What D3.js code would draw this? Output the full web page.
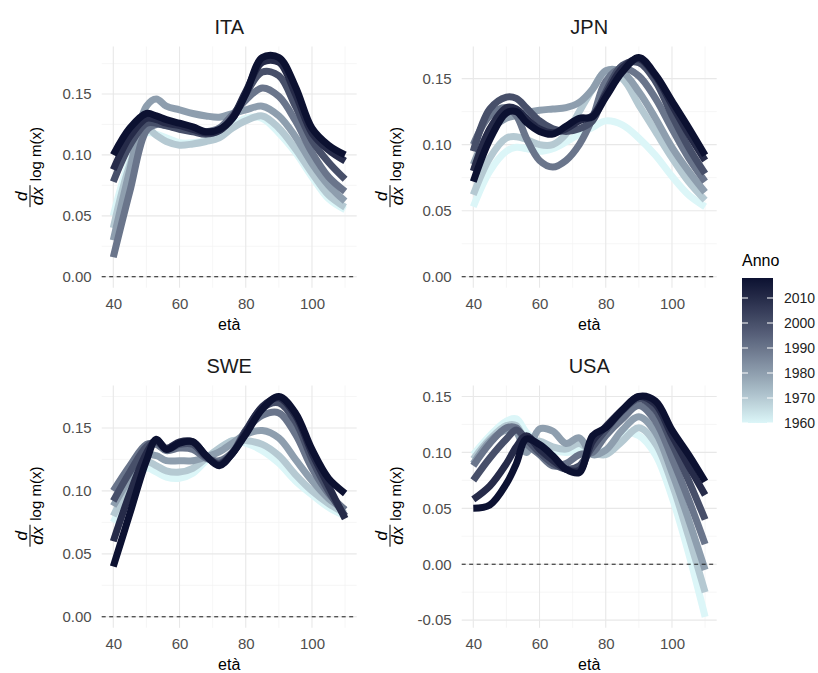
<!DOCTYPE html>
<html>
<head>
<meta charset="utf-8">
<script src="https://d3js.org/d3.v7.min.js"></script>
<style>
  body { margin: 0; background: #fff; }
  text { font-family: "Liberation Sans", Arial, sans-serif; }
</style>
</head>
<body>
<script>
// ages, one column per age
var ages = [40, 45, 50, 53, 56, 60, 64, 68, 72, 76, 80, 85, 90, 95, 100, 105, 110];
// years drawn, one row per year in each country table
var years = [1960, 1970, 1980, 1990, 2000, 2010, 2018];
var legendTicks = [1960, 1970, 1980, 1990, 2000, 2010];
var countries = ["ITA", "JPN", "SWE", "USA"];
var xTicks = [40, 60, 80, 100];
var xMinor = [50, 70, 90, 110];

var ita = [
  [0.050, 0.095, 0.118, 0.117, 0.114, 0.110, 0.110, 0.112, 0.116, 0.124, 0.130, 0.130, 0.118, 0.102, 0.082, 0.064, 0.055],
  [0.040, 0.092, 0.122, 0.116, 0.111, 0.108, 0.109, 0.111, 0.114, 0.122, 0.128, 0.132, 0.122, 0.105, 0.085, 0.067, 0.057],
  [0.030, 0.088, 0.140, 0.146, 0.140, 0.137, 0.134, 0.132, 0.131, 0.134, 0.137, 0.140, 0.132, 0.115, 0.093, 0.075, 0.062],
  [0.016, 0.070, 0.120, 0.125, 0.124, 0.122, 0.120, 0.119, 0.122, 0.133, 0.145, 0.155, 0.148, 0.128, 0.102, 0.082, 0.070],
  [0.078, 0.108, 0.126, 0.126, 0.124, 0.121, 0.119, 0.117, 0.120, 0.130, 0.150, 0.168, 0.165, 0.140, 0.112, 0.094, 0.080],
  [0.088, 0.115, 0.130, 0.129, 0.126, 0.124, 0.121, 0.118, 0.120, 0.131, 0.152, 0.176, 0.176, 0.150, 0.118, 0.104, 0.095],
  [0.100, 0.122, 0.134, 0.132, 0.129, 0.126, 0.123, 0.119, 0.121, 0.130, 0.150, 0.180, 0.180, 0.156, 0.122, 0.108, 0.100]
];

var jpn = [
  [0.053, 0.080, 0.095, 0.098, 0.097, 0.095, 0.097, 0.102, 0.108, 0.113, 0.118, 0.115, 0.105, 0.092, 0.076, 0.062, 0.053],
  [0.062, 0.090, 0.105, 0.106, 0.104, 0.100, 0.100, 0.108, 0.125, 0.142, 0.155, 0.150, 0.130, 0.110, 0.090, 0.072, 0.058],
  [0.085, 0.110, 0.120, 0.122, 0.124, 0.126, 0.127, 0.128, 0.132, 0.142, 0.156, 0.155, 0.140, 0.120, 0.098, 0.080, 0.064],
  [0.100, 0.122, 0.128, 0.122, 0.105, 0.088, 0.083, 0.088, 0.100, 0.120, 0.148, 0.158, 0.152, 0.135, 0.112, 0.090, 0.072],
  [0.095, 0.127, 0.136, 0.135, 0.128, 0.118, 0.112, 0.110, 0.112, 0.118, 0.140, 0.160, 0.162, 0.148, 0.122, 0.098, 0.078],
  [0.080, 0.112, 0.128, 0.127, 0.120, 0.112, 0.109, 0.112, 0.118, 0.122, 0.138, 0.158, 0.165, 0.152, 0.130, 0.108, 0.088],
  [0.072, 0.104, 0.124, 0.125, 0.117, 0.110, 0.108, 0.114, 0.120, 0.121, 0.136, 0.155, 0.166, 0.153, 0.133, 0.113, 0.092]
];

var swe = [
  [0.075, 0.100, 0.118, 0.115, 0.111, 0.110, 0.114, 0.124, 0.133, 0.140, 0.138, 0.132, 0.122, 0.108, 0.097, 0.087, 0.080],
  [0.080, 0.105, 0.123, 0.120, 0.116, 0.115, 0.118, 0.126, 0.134, 0.140, 0.140, 0.137, 0.128, 0.113, 0.100, 0.090, 0.082],
  [0.088, 0.110, 0.128, 0.128, 0.124, 0.124, 0.124, 0.127, 0.131, 0.138, 0.145, 0.148, 0.142, 0.125, 0.108, 0.094, 0.085],
  [0.100, 0.120, 0.137, 0.137, 0.132, 0.134, 0.133, 0.126, 0.124, 0.131, 0.148, 0.160, 0.162, 0.145, 0.118, 0.098, 0.085],
  [0.092, 0.115, 0.135, 0.139, 0.133, 0.137, 0.137, 0.127, 0.122, 0.130, 0.148, 0.166, 0.170, 0.155, 0.125, 0.100, 0.080],
  [0.060, 0.098, 0.130, 0.140, 0.134, 0.139, 0.139, 0.128, 0.121, 0.130, 0.147, 0.167, 0.174, 0.160, 0.130, 0.104, 0.078],
  [0.040, 0.082, 0.124, 0.141, 0.133, 0.138, 0.139, 0.128, 0.120, 0.130, 0.145, 0.165, 0.175, 0.162, 0.133, 0.110, 0.098]
];

var usa = [
  [0.098, 0.115, 0.128, 0.130, 0.118, 0.108, 0.102, 0.100, 0.102, 0.100, 0.102, 0.117, 0.115, 0.098, 0.060, 0.010, -0.047],
  [0.094, 0.112, 0.124, 0.124, 0.110, 0.110, 0.105, 0.103, 0.108, 0.100, 0.098, 0.110, 0.122, 0.108, 0.072, 0.025, -0.025],
  [0.090, 0.110, 0.120, 0.118, 0.100, 0.121, 0.119, 0.108, 0.113, 0.098, 0.102, 0.120, 0.132, 0.118, 0.082, 0.040, -0.005],
  [0.088, 0.108, 0.122, 0.122, 0.108, 0.098, 0.088, 0.090, 0.098, 0.100, 0.115, 0.130, 0.142, 0.128, 0.095, 0.058, 0.018],
  [0.075, 0.095, 0.112, 0.120, 0.112, 0.100, 0.090, 0.085, 0.088, 0.105, 0.120, 0.137, 0.148, 0.138, 0.108, 0.075, 0.040],
  [0.058, 0.070, 0.090, 0.105, 0.115, 0.103, 0.093, 0.085, 0.084, 0.110, 0.123, 0.138, 0.150, 0.143, 0.115, 0.088, 0.062],
  [0.050, 0.053, 0.072, 0.090, 0.112, 0.107, 0.097, 0.085, 0.082, 0.115, 0.122, 0.138, 0.150, 0.146, 0.120, 0.098, 0.074]
];

var series = { ITA: ita, JPN: jpn, SWE: swe, USA: usa };

var width = 818, height = 673;
var colLeft = [101.7, 461.7], panelWidth = 255;
var rowTop = [46.5, 385.5], rowBottom = [287.7, 627.8];

var colour = d3.scaleLinear()
    .domain([1960, 2018])
    .range(["#dcf6f8", "#0c1131"])
    .interpolate(d3.interpolateLab);

var svg = d3.select("body").append("svg")
    .attr("width", width)
    .attr("height", height)
    .style("background", "#fff");

countries.forEach(function (name, i) {
    var col = i % 2, row = Math.floor(i / 2);
    var x0 = colLeft[col], x1 = x0 + panelWidth, y0 = rowTop[row], y1 = rowBottom[row];
    var rates = series[name];

    var all = d3.merge(rates).concat([0]);
    var lo = d3.min(all), hi = d3.max(all), pad = (hi - lo) * 0.05;

    var xScale = d3.scaleLinear().domain([36.5, 113.5]).range([x0, x1]);
    var yScale = d3.scaleLinear().domain([lo - pad, hi + pad]).range([y1, y0]);

    var yTicks = yScale.ticks(4);
    var step = yTicks[1] - yTicks[0];
    var yMinor = [];
    for (var t = yTicks[0] - step / 2; t <= hi + pad; t += step) {
        if (t >= lo - pad) yMinor.push(t);
    }

    var g = svg.append("g");

    // grid, minor first
    g.selectAll(".vminor").data(xMinor).enter().append("line")
        .attr("x1", function (d) { return xScale(d); })
        .attr("x2", function (d) { return xScale(d); })
        .attr("y1", y0).attr("y2", y1)
        .attr("stroke", "#f2f2f2").attr("stroke-width", 0.7);
    g.selectAll(".hminor").data(yMinor).enter().append("line")
        .attr("x1", x0).attr("x2", x1)
        .attr("y1", function (d) { return yScale(d); })
        .attr("y2", function (d) { return yScale(d); })
        .attr("stroke", "#f2f2f2").attr("stroke-width", 0.7);
    g.selectAll(".vmajor").data(xTicks).enter().append("line")
        .attr("x1", function (d) { return xScale(d); })
        .attr("x2", function (d) { return xScale(d); })
        .attr("y1", y0).attr("y2", y1)
        .attr("stroke", "#e8e8e8").attr("stroke-width", 1.1);
    g.selectAll(".hmajor").data(yTicks).enter().append("line")
        .attr("x1", x0).attr("x2", x1)
        .attr("y1", function (d) { return yScale(d); })
        .attr("y2", function (d) { return yScale(d); })
        .attr("stroke", "#e8e8e8").attr("stroke-width", 1.1);

    var line = d3.line()
        .x(function (d) { return xScale(d.age); })
        .y(function (d) { return yScale(d.v); })
        .curve(d3.curveCatmullRom.alpha(0.5));

    var lines = years.map(function (yr, k) {
        return { year: yr, pts: ages.map(function (a, j) { return { age: a, v: rates[k][j] }; }) };
    });

    g.selectAll(".rate").data(lines).enter().append("path")
        .attr("d", function (d) { return line(d.pts); })
        .attr("fill", "none")
        .attr("stroke", function (d) { return colour(d.year); })
        .attr("stroke-width", 7)
        .attr("stroke-linejoin", "round")
        .attr("stroke-linecap", "butt");

    g.append("line")
        .attr("x1", x0).attr("x2", x1)
        .attr("y1", yScale(0)).attr("y2", yScale(0))
        .attr("stroke", "#1a1a1a").attr("stroke-width", 1)
        .attr("stroke-dasharray", "4,3.5");

    // axes: no ticks or domain line, just the labels
    var yAxis = d3.axisLeft(yScale).tickValues(yTicks).tickSize(0).tickPadding(10)
        .tickFormat(function (d) { return d.toFixed(2); });
    var ya = g.append("g").attr("transform", "translate(" + x0 + ",0)").call(yAxis);
    ya.select(".domain").remove();
    ya.selectAll("text").attr("font-size", 15).attr("fill", "#4d4d4d")
        .attr("font-family", "Liberation Sans, Arial, sans-serif");

    var xAxis = d3.axisBottom(xScale).tickValues(xTicks).tickSize(0).tickPadding(10.4);
    var xa = g.append("g").attr("transform", "translate(0," + y1 + ")").call(xAxis);
    xa.select(".domain").remove();
    xa.selectAll("text").attr("font-size", 15).attr("fill", "#4d4d4d")
        .attr("font-family", "Liberation Sans, Arial, sans-serif");

    g.append("text")
        .attr("x", (x0 + x1) / 2).attr("y", y0 - 13)
        .attr("text-anchor", "middle")
        .attr("font-size", 20).attr("fill", "#1a1a1a")
        .text(name);

    g.append("text")
        .attr("x", (x0 + x1) / 2).attr("y", y1 + 42)
        .attr("text-anchor", "middle")
        .attr("font-size", 16).attr("fill", "#000")
        .text("età");

    // y title: d/dx log m(x), rotated
    var lab = g.append("g")
        .attr("transform", "translate(" + (col * 360) + "," + ((y0 + y1) / 2) + ") rotate(-90)");
    var num = lab.append("text").attr("y", 27).attr("font-size", 17)
        .attr("font-style", "italic").attr("text-anchor", "middle").text("d");
    var den = lab.append("text").attr("y", 43).attr("font-size", 17)
        .attr("font-style", "italic").attr("text-anchor", "middle").text("dx");
    var bar = lab.append("line").attr("y1", 30).attr("y2", 30)
        .attr("stroke", "#000").attr("stroke-width", 1);
    var logt = lab.append("text").attr("y", 40.5).attr("font-size", 15).text("log m(x)");
    var fw = den.node().getComputedTextLength() + 4;
    var lw = logt.node().getComputedTextLength();
    var start = -(fw + 4 + lw) / 2;
    num.attr("x", start + fw / 2);
    den.attr("x", start + fw / 2);
    bar.attr("x1", start).attr("x2", start + fw);
    logt.attr("x", start + fw + 4);
});

// legend
var legTop = 278, legBottom = 423, legLeft = 742, legWidth = 31;
var yLeg = d3.scaleLinear().domain([1960, 2018]).range([legBottom, legTop]);

var grad = svg.append("defs").append("linearGradient")
    .attr("id", "annoGrad")
    .attr("x1", 0).attr("y1", 1).attr("x2", 0).attr("y2", 0);
grad.selectAll("stop").data(d3.range(0, 1.0001, 0.05)).enter().append("stop")
    .attr("offset", function (d) { return d; })
    .attr("stop-color", function (d) { return colour(1960 + d * 58); });

svg.append("text")
    .attr("x", legLeft).attr("y", 266)
    .attr("font-size", 16).attr("fill", "#000")
    .text("Anno");

svg.append("rect")
    .attr("x", legLeft).attr("y", legTop)
    .attr("width", legWidth).attr("height", legBottom - legTop)
    .attr("fill", "url(#annoGrad)");

svg.selectAll(".ltick").data(legendTicks).enter().append("path")
    .attr("d", function (d) {
        var yy = yLeg(d);
        return "M" + legLeft + "," + yy + "h6M" + (legLeft + legWidth - 6) + "," + yy + "h6";
    })
    .attr("stroke", "#fff").attr("stroke-width", 1);

var legAxis = d3.axisRight(yLeg).tickValues(legendTicks).tickSize(0).tickPadding(11)
    .tickFormat(d3.format("d"));
var la = svg.append("g").attr("transform", "translate(" + (legLeft + legWidth) + ",0)").call(legAxis);
la.select(".domain").remove();
la.selectAll("text").attr("font-size", 14).attr("fill", "#222")
    .attr("font-family", "Liberation Sans, Arial, sans-serif");
</script>
</body>
</html>
